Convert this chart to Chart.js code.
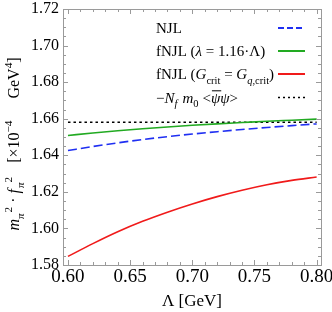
<!DOCTYPE html>
<html>
<head>
<meta charset="utf-8">
<script src="https://cdn.jsdelivr.net/npm/chart.js@4"></script>
<style>
  html,body{margin:0;padding:0;background:#fff;}
  #wrap{position:relative;width:332px;height:312px;}
</style>
</head>
<body>
<div id="wrap"><canvas id="chart" width="332" height="312"></canvas></div>
<script>
// cutoff Lambda [GeV]
const lambdaGeV = [0.60, 0.62, 0.64, 0.66, 0.68, 0.70, 0.72, 0.74, 0.76, 0.78, 0.80];
// m_pi^2 f_pi^2 in units of 1e-4 GeV^4
const njl       = [1.6426, 1.6448, 1.6468, 1.6486, 1.6502, 1.6516, 1.6529, 1.6541, 1.6552, 1.6562, 1.6572];
const fnjlLam   = [1.6508, 1.6522, 1.6534, 1.6545, 1.6555, 1.6564, 1.6572, 1.6579, 1.6586, 1.6592, 1.6598];
const fnjlGcrit = [1.5847, 1.5917, 1.5982, 1.6039, 1.6089, 1.6134, 1.6174, 1.6209, 1.6239, 1.6263, 1.6281];
const gmor      = [1.6581, 1.6581, 1.6581, 1.6581, 1.6581, 1.6581, 1.6581, 1.6581, 1.6581, 1.6581, 1.6581];

const xTicks = [0.60, 0.65, 0.70, 0.75, 0.80];
const yTicks = [1.58, 1.60, 1.62, 1.64, 1.66, 1.68, 1.70, 1.72];

const SERIF = "'Liberation Serif','DejaVu Serif',serif";
const BLUE = "#1f2ff2", GREEN = "#22aa22", RED = "#f01a1a", BLACK = "#000";

function pts(ys){ return lambdaGeV.map((x,i)=>({x:x, y:ys[i]})); }

// rich text: segs = [{t, i:italic, s:'sub'|'sup', stack:true (same x as previous), gap:px, bar:true}]
function richWidth(ctx, segs, size){
    let cur=0, prev=0;
    for(const g of segs){
        if(g.gap){ cur+=g.gap; continue; }
        const fs = g.s ? size*0.7 : size;
        ctx.font = (g.i?"italic ":"")+fs+"px "+SERIF;
        const w = ctx.measureText(g.t).width;
        const start = g.stack ? prev : cur;
        prev = start;
        cur = Math.max(cur, start+w);
    }
    return cur;
}
function drawRich(ctx, segs, x, y, size){
    let cur=x, prev=x;
    ctx.textBaseline="alphabetic";
    ctx.textAlign="left";
    for(const g of segs){
        if(g.gap){ cur+=g.gap; continue; }
        const fs = g.s ? size*0.7 : size;
        ctx.font = (g.i?"italic ":"")+fs+"px "+SERIF;
        const w = ctx.measureText(g.t).width;
        const start = g.stack ? prev : cur;
        let dy = 0;
        if(g.s==="sub") dy = size*0.3;
        if(g.s==="sup") dy = -size*0.45;
        ctx.fillText(g.t, start, y+dy);
        if(g.bar){
            ctx.save();
            ctx.lineWidth=1;
            ctx.strokeStyle=ctx.fillStyle;
            ctx.beginPath();
            ctx.moveTo(start+1, y-size*0.78);
            ctx.lineTo(start+w+1, y-size*0.78);
            ctx.stroke();
            ctx.restore();
        }
        prev = start;
        cur = Math.max(cur, start+w);
    }
    return cur;
}

const legendRows = [
    { color:BLUE, dash:[6,3], segs:[{t:"NJL"}] },
    { color:GREEN, dash:[], segs:[{t:"fNJL ("},{t:"λ",i:true},{t:" = 1.16·Λ)"}] },
    { color:RED, dash:[], segs:[{t:"fNJL ("},{t:"G",i:true},{t:"crit",s:"sub"},{t:" = "},{t:"G",i:true},{t:"q",i:true,s:"sub"},{t:",crit",s:"sub"},{t:")"}] },
    { color:BLACK, dash:[2,3], segs:[{t:"−"},{t:"N",i:true},{t:"f",i:true,s:"sub"},{gap:5},{t:"m",i:true},{t:"0",s:"sub"},{gap:4},{t:"<"},{t:"ψ",i:true,bar:true},{t:"ψ",i:true},{t:">"}] }
];
const legendBase = [33, 56, 79, 102.5];

const framePlugin = {
    id:"frame",
    afterDatasetsDraw(chart){
        const ctx = chart.ctx, a = chart.chartArea;
        const xs = chart.scales.x, ys = chart.scales.y;
        ctx.save();
        ctx.strokeStyle = "#9a9a9a";
        ctx.lineWidth = 1;
        ctx.strokeRect(Math.round(a.left)+0.5, Math.round(a.top)+0.5, Math.round(a.right-a.left), Math.round(a.bottom-a.top));
        ctx.beginPath();
        // x ticks, every 0.01, major every 0.05
        for(let k=60;k<=80;k++){
            const px = Math.round(xs.getPixelForValue(k/100))+0.5;
            const len = (k%5===0)?5:3;
            ctx.moveTo(px, a.bottom); ctx.lineTo(px, a.bottom-len);
            ctx.moveTo(px, a.top); ctx.lineTo(px, a.top+len);
        }
        // y ticks, every 0.005, major every 0.02
        for(let k=0;k<=28;k++){
            const v = 1.58 + k*0.005;
            const py = Math.round(ys.getPixelForValue(v))+0.5;
            const len = (k%4===0)?5:3;
            ctx.moveTo(a.left, py); ctx.lineTo(a.left+len, py);
            ctx.moveTo(a.right, py); ctx.lineTo(a.right-len, py);
        }
        ctx.stroke();

        // legend
        legendRows.forEach((r,i)=>{
            const b = legendBase[i];
            ctx.fillStyle = "#000";
            drawRich(ctx, r.segs, 156, b, 15);
            ctx.beginPath();
            ctx.strokeStyle = r.color;
            ctx.lineWidth = r.color===BLACK ? 1.5 : 2;
            ctx.setLineDash(r.dash);
            ctx.moveTo(278, b-5); ctx.lineTo(305, b-5);
            ctx.stroke();
            ctx.setLineDash([]);
        });

        // y title, rotated
        const ySegs = [
            {t:"m",i:true},{t:"π",i:true,s:"sub"},{gap:1},{t:"2",s:"sup"},
            {gap:4},{t:"·"},{gap:4},
            {t:"f",i:true},{gap:1},{t:"π",i:true,s:"sub"},{t:"2",s:"sup"},
            {gap:14},
            {t:"[×10"},{t:"−4",s:"sup"},
            {gap:22},
            {t:"GeV"},{t:"4",s:"sup"},{t:"]"}
        ];
        const w = richWidth(ctx, ySegs, 16);
        ctx.translate(19, 144 + w/2);
        ctx.rotate(-Math.PI/2);
        ctx.fillStyle="#000";
        drawRich(ctx, ySegs, 0, 0, 16);
        ctx.restore();
    }
};

new Chart(document.getElementById("chart"), {
    type:"line",
    data:{
        datasets:[
            { label:"NJL", data:pts(njl), borderColor:BLUE, borderWidth:1.6, borderDash:[9,4], pointRadius:0, tension:0.4, cubicInterpolationMode:"monotone", fill:false },
            { label:"fNJL lambda", data:pts(fnjlLam), borderColor:GREEN, borderWidth:1.6, pointRadius:0, tension:0.4, cubicInterpolationMode:"monotone", fill:false },
            { label:"fNJL Gcrit", data:pts(fnjlGcrit), borderColor:RED, borderWidth:1.6, pointRadius:0, tension:0.4, cubicInterpolationMode:"monotone", fill:false },
            { label:"GMOR", data:pts(gmor), borderColor:BLACK, borderWidth:1.6, borderDash:[2.5,3], pointRadius:0, tension:0, fill:false }
        ]
    },
    options:{
        responsive:false,
        animation:false,
        devicePixelRatio:1,
        layout:{ padding:{ top:9, right:11, left:0, bottom:0 } },
        plugins:{ legend:{display:false}, tooltip:{enabled:false} },
        scales:{
            x:{
                type:"linear", min:0.596, max:0.8035,
                grid:{display:false, drawTicks:false}, border:{display:false},
                afterBuildTicks:s=>{ s.ticks = xTicks.map(v=>({value:v})); },
                afterFit:s=>{ s.height = 47; s.paddingLeft = 0; s.paddingRight = 0; },
                ticks:{ color:"#000", font:{family:SERIF, size:19}, padding:1, maxRotation:0, autoSkip:false, callback:v=>v.toFixed(2) },
                title:{ display:true, text:"Λ [GeV]", color:"#000", font:{family:SERIF, size:17}, padding:{top:0,bottom:0} }
            },
            y:{
                type:"linear", min:1.58, max:1.72,
                grid:{display:false, drawTicks:false}, border:{display:false},
                afterBuildTicks:s=>{ s.ticks = yTicks.map(v=>({value:v})); },
                afterFit:s=>{ s.width = 63; s.paddingTop = 0; s.paddingBottom = 0; },
                ticks:{ color:"#000", font:{family:SERIF, size:16}, padding:4, autoSkip:false, callback:v=>v.toFixed(2) }
            }
        }
    },
    plugins:[framePlugin]
});
</script>
</body>
</html>
